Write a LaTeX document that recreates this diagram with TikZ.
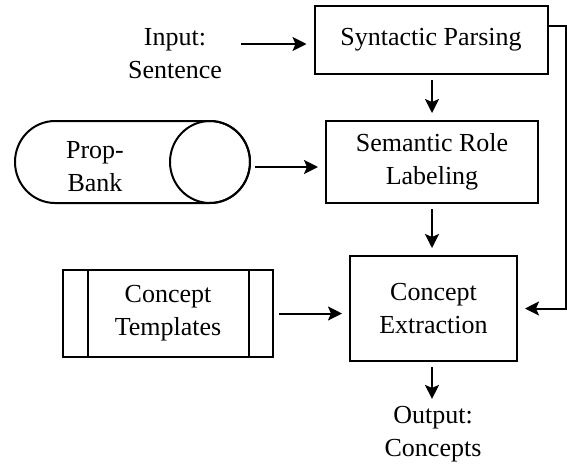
\documentclass[tikz,border=0pt]{standalone}
\usepackage{fontspec}
\setmainfont{Liberation Serif}
\usetikzlibrary{arrows.meta}

\begin{document}
\begin{tikzpicture}[x=1pt,y=-1pt,
  font=\rmfamily\fontsize{26}{33}\selectfont,
  box/.style={draw,line width=2pt,align=center,inner sep=0pt},
  txt/.style={align=center,inner sep=0pt},
  arr/.style={line width=2pt,-{Stealth[length=14pt,width=14pt,inset=3pt]},shorten <=5pt,shorten >=7pt}]
  \useasboundingbox (0,0) rectangle (567,464);
  \node[txt] (in) at (175,54) {Input:\\Sentence};
  \node[box,minimum width=233pt,minimum height=68pt] (sp) at (431,40) {Syntactic Parsing};
  \node[box,minimum width=212pt,minimum height=82pt] (srl) at (432,162) {Semantic Role\\Labeling};
  \node[box,minimum width=167pt,minimum height=105pt] (ce) at (433.5,308.5) {Concept\\Extraction};
  \node[box,minimum width=210pt,minimum height=87pt] (ct) at (168,313.5) {Concept\\Templates};
  \draw[line width=2pt] ([xshift=26pt]ct.north west) -- ([xshift=26pt]ct.south west);
  \draw[line width=2pt] ([xshift=-25pt]ct.north east) -- ([xshift=-25pt]ct.south east);
  % propbank store
  \draw[line width=2pt] (55,121) -- (210,121) arc (-90:90:40 and 41) -- (55,203) arc (90:270:40 and 41) -- cycle;
  \draw[line width=2pt] (210,162) ellipse (40 and 41);
  \node[txt] (pb) at (95,167) {Prop-\\Bank};
  \node[txt] (out) at (433,434) {Output:\\Concepts};
  \coordinate (ina) at (236,44);
  \coordinate (pbr) at (250,167);
  \draw[arr] (ina) -- (sp.west |- ina);
  \draw[arr] (srl.north |- sp.south) -- (srl.north);
  \draw[arr] (pbr) -- (srl.west |- pbr);
  \draw[arr] (srl.south) -- (srl.south |- ce.north);
  \draw[arr] (ct.east) -- (ce.west |- ct.east);
  \draw[arr] (srl.south |- ce.south) -- (srl.south |- out.north);
  \draw[arr,shorten <=0pt] ([yshift=14pt]sp.east) -- ++(17,0) |- (ce.east);
\end{tikzpicture}
\end{document}
